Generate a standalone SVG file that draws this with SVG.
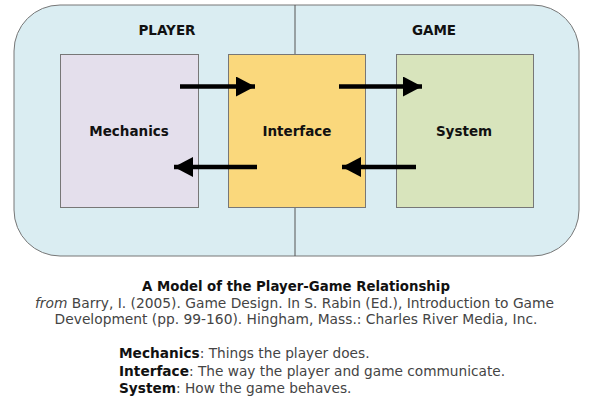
<svg xmlns="http://www.w3.org/2000/svg" width="593" height="402" viewBox="0 0 593 402">
<style>
text{font-family:Verdana,"DejaVu Sans",sans-serif}
.lbl{font-size:13.5px;font-weight:bold;fill:#111;text-anchor:middle}
.box{stroke:#777;stroke-width:1}
.arr{stroke:#000;stroke-width:4.5;fill:none}
.cit{font-size:13.8px;fill:#444;text-anchor:middle}
.ttl{font-size:13.3px;font-weight:bold;fill:#111;text-anchor:middle}
.leg{font-size:13.7px;fill:#444}
.leg tspan.b{font-weight:bold;fill:#111}
</style>
<defs>
<marker id="ah" markerUnits="userSpaceOnUse" markerWidth="20" markerHeight="22" refX="19" refY="10" orient="auto">
<path d="M0,0 L19,10 L0,20 Z" fill="#000"/>
</marker>
</defs>
<rect width="593" height="402" fill="#fff"/>
<g id="frame">
<rect x="14" y="5" width="565" height="251" rx="46" ry="46" fill="#daedf2" stroke="#777" stroke-width="1"/>
<line x1="295" y1="5" x2="295" y2="256" stroke="#555" stroke-width="1"/>
<text class="lbl" x="167" y="35">PLAYER</text>
<text class="lbl" x="434" y="35">GAME</text>
</g>
<g id="mechanics">
<rect class="box" x="60.5" y="54.5" width="138" height="153" fill="#e4dfec"/>
<text class="lbl" x="129" y="136">Mechanics</text>
</g>
<g id="interface">
<rect class="box" x="228.5" y="54.5" width="137" height="153" fill="#fad87c"/>
<text class="lbl" x="297" y="136">Interface</text>
</g>
<g id="system">
<rect class="box" x="396.5" y="54.5" width="137" height="153" fill="#d8e4bc"/>
<text class="lbl" x="464" y="136">System</text>
</g>
<g id="connectors">
<line class="arr" x1="180" y1="86.5" x2="255" y2="86.5" marker-end="url(#ah)"/>
<line class="arr" x1="257" y1="167" x2="174" y2="167" marker-end="url(#ah)"/>
<line class="arr" x1="339" y1="86.5" x2="422" y2="86.5" marker-end="url(#ah)"/>
<line class="arr" x1="416" y1="167" x2="342" y2="167" marker-end="url(#ah)"/>
</g>
<g id="caption">
<text class="ttl" x="296" y="290.5">A Model of the Player-Game Relationship</text>
<text class="cit" x="294.5" y="307.5"><tspan font-style="italic">from</tspan> Barry, I. (2005). Game Design. In S. Rabin (Ed.), Introduction to Game</text>
<text class="cit" x="296" y="324">Development (pp. 99-160). Hingham, Mass.: Charles River Media, Inc.</text>
<text class="leg" x="119" y="358.3"><tspan class="b">Mechanics</tspan>: Things the player does.</text>
<text class="leg" x="119" y="375.5"><tspan class="b">Interface</tspan>: The way the player and game communicate.</text>
<text class="leg" x="119" y="392.7"><tspan class="b">System</tspan>: How the game behaves.</text>
</g>
</svg>
